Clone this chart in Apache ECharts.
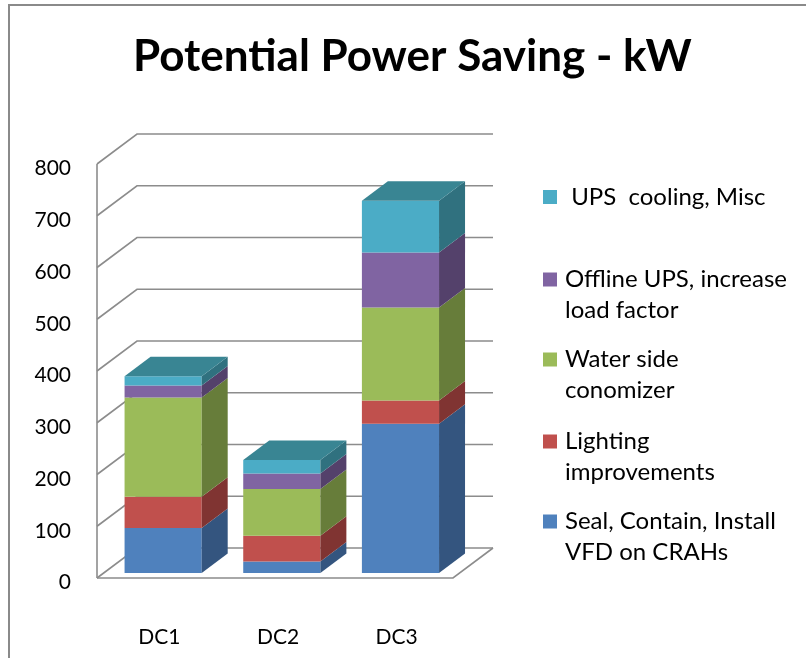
<!DOCTYPE html>
<html>
<head>
<meta charset="utf-8">
<script src="https://cdn.jsdelivr.net/npm/echarts@6/dist/echarts.min.js"></script>
<style>html,body{margin:0;padding:0;background:#fff}#c{width:806px;height:658px}</style>
</head>
<body>
<div id="c"></div>
<script>
// ---- data ----
const categories = ['DC1', 'DC2', 'DC3'];
const seriesNames = [
  'Seal, Contain, Install\nVFD on CRAHs',
  'Lighting\nimprovements',
  'Water side\nconomizer',
  'Offline UPS, increase\nload factor',
  ' UPS  cooling, Misc'
];
const sealContain = [87, 22, 288];
const lighting = [60, 50, 45];
const waterSide = [192, 90, 180];
const offlineUps = [23, 30, 106];
const upsCooling = [18, 26, 100];
const yTicks = [0, 100, 200, 300, 400, 500, 600, 700, 800];

// ---- style ----
const FONT = 'Lato';
const frontColors = ['#4F81BD', '#C0504D', '#9BBB59', '#8064A2', '#4BACC6'];
const sideColors  = ['#34557F', '#803432', '#677D3A', '#54416B', '#30717F'];
const topColors   = ['#3E6796', '#9A3F3D', '#7C9647', '#664F82', '#398593'];
const DX = 40, DY = -30;      // full depth of the 3D box
const F1 = 0.17, FD = 0.65;   // bar front position and bar depth (fractions)

const values = [sealContain, lighting, waterSide, offlineUps, upsCooling];
const bases = categories.map(() => 0);
const segData = values.map((arr, si) => arr.map((v, ci) => {
  const b = bases[ci];
  bases[ci] += v;
  return [ci, b, b + v, si === values.length - 1 ? 1 : 0];
}));

function renderSeg(si) {
  return function (params, api) {
    const ci = api.value(0);
    const p0 = api.coord([ci, api.value(1)]);
    const p1 = api.coord([ci, api.value(2)]);
    const bw = api.size([1, 0])[0] * 0.65;
    const cx = p0[0] + F1 * DX;
    const yb = p0[1] + F1 * DY;
    const yt = p1[1] + F1 * DY;
    const x0 = cx - bw / 2, x1 = cx + bw / 2;
    const sx = FD * DX, sy = FD * DY;
    const children = [
      { type: 'rect', shape: { x: x0, y: yt, width: bw, height: yb - yt }, style: { fill: frontColors[si] } },
      { type: 'polygon', shape: { points: [[x1, yb], [x1, yt], [x1 + sx, yt + sy], [x1 + sx, yb + sy]] }, style: { fill: sideColors[si] } }
    ];
    if (api.value(3) === 1) {
      children.push({ type: 'polygon', shape: { points: [[x0, yt], [x1, yt], [x1 + sx, yt + sy], [x0 + sx, yt + sy]] }, style: { fill: topColors[si] } });
    }
    return { type: 'group', children };
  };
}

function renderFrame(params, api) {
  const cs = params.coordSys;
  const L = cs.x, R = cs.x + cs.width;
  const v = api.value(1);
  const y = api.coord([0, v])[1];
  const st = { stroke: '#8C8C8C', lineWidth: 1.6, fill: null };
  const children = [
    { type: 'polyline', shape: { points: [[L, y], [L + DX, y + DY], [R + DX, y + DY]] }, style: st }
  ];
  if (v === yTicks[0]) {
    children.push({ type: 'polyline', shape: { points: [[L, y], [R, y], [R + DX, y + DY]] }, style: st });
  }
  if (v === yTicks[yTicks.length - 1]) {
    const y0 = api.coord([0, yTicks[0]])[1];
    children.push({ type: 'polyline', shape: { points: [[L, y], [L, y0]] }, style: st });
  }
  return { type: 'group', children };
}

const series = [{
  type: 'custom', name: '__frame', silent: true, z: 1,
  data: yTicks.map(t => [0, t]),
  encode: { x: 0, y: 1 },
  renderItem: renderFrame
}];
values.forEach((arr, si) => {
  series.push({
    type: 'custom', name: seriesNames[si], z: 2,
    itemStyle: { color: frontColors[si] },
    data: segData[si],
    encode: { x: 0, y: [1, 2] },
    renderItem: renderSeg(si)
  });
});

// legend: one block per item; two-line items get a blank first line so the
// marker sits beside the first text line
const legendTops = [181.5, 233, 313, 395, 475];
const legendOrder = [4, 3, 2, 1, 0];
const legends = legendOrder.map((si, k) => ({
  data: [seriesNames[si]],
  left: 543, top: legendTops[k],
  padding: 0,
  itemWidth: 14, itemHeight: 14,
  icon: 'rect',
  selectedMode: false,
  formatter: k === 0 ? (n => n) : (n => ' \n' + n),
  textStyle: {
    fontFamily: FONT, fontSize: 24, color: '#000', lineHeight: 31,
    padding: [0, 0, 0, 3]
  }
}));

const chart = echarts.init(document.getElementById('c'));
chart.setOption({
  animation: false,
  backgroundColor: '#fff',
  textStyle: { fontFamily: FONT },
  title: {
    text: 'Potential Power Saving - kW',
    left: 133, top: 30,
    padding: 0,
    textStyle: { fontFamily: FONT, fontSize: 44, fontWeight: 'bold', color: '#000', lineHeight: 53 }
  },
  legend: legends,
  grid: { left: 97, top: 164, width: 356, height: 414 },
  xAxis: {
    type: 'category', data: categories,
    axisLine: { show: false }, axisTick: { show: false }, splitLine: { show: false },
    axisLabel: { fontFamily: FONT, fontSize: 21, color: '#000', margin: 49, padding: [0, 0, 0, 6] }
  },
  yAxis: {
    type: 'value', min: 0, max: 800, interval: 100,
    axisLine: { show: false }, axisTick: { show: false }, splitLine: { show: false },
    axisLabel: { fontFamily: FONT, fontSize: 21, color: '#000', margin: 26, verticalAlign: 'top', lineHeight: 9 }
  },
  graphic: [{
    type: 'rect', silent: true, z: 0,
    shape: { x: 9, y: 5, width: 820, height: 700 },
    style: { fill: null, stroke: '#8A8A8A', lineWidth: 2 }
  }],
  series
});
</script>
</body>
</html>
